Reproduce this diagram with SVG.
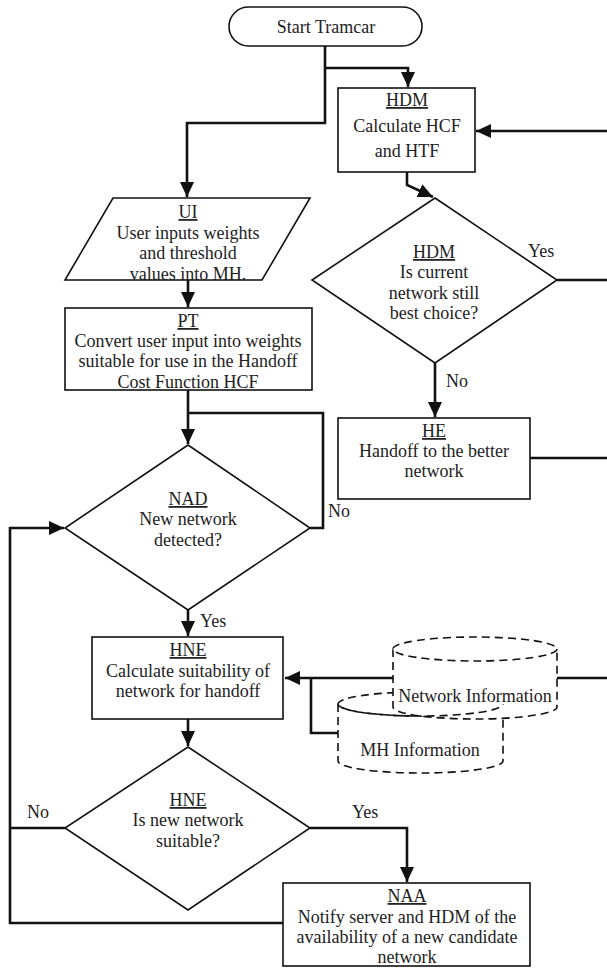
<svg xmlns="http://www.w3.org/2000/svg" width="607" height="968" viewBox="0 0 607 968" font-family="Liberation Serif, Times New Roman, serif">
<style>
text{font-size:18px;fill:#222;text-anchor:middle}
.t{text-decoration:underline}
.lbl{text-anchor:start}
.box{fill:#fff;stroke:#111;stroke-width:1.6}
.cyl{fill:#fff;stroke:#111;stroke-width:1.6;stroke-dasharray:8 5}
.cyln{fill:none;stroke:#111;stroke-width:1.6;stroke-dasharray:8 5}
.c{fill:none;stroke:#111;stroke-width:2.6}
.a{marker-end:url(#ah)}
</style>
<defs>
<marker id="ah" markerUnits="userSpaceOnUse" markerWidth="16" markerHeight="16" refX="15" refY="7" orient="auto">
<path d="M0,0 L15,7 L0,14 z" fill="#111"/>
</marker>
</defs>
<rect width="607" height="968" fill="#fff"/>
<g id="connectors">
<path class="c a" d="M325,46 V123 H187 V197"/>
<path class="c a" d="M325,68 H408 V87"/>
<path class="c a" d="M607,131 H476"/>
<path class="c a" d="M407,172 V185 L433,197"/>
<path class="c" d="M557,280 H607"/>
<path class="c a" d="M435,363 V417"/>
<path class="c" d="M530,458 H607"/>
<path class="c a" d="M188,280 V307"/>
<path class="c a" d="M188,390 V444"/>
<path class="c" d="M310,528 H323 V413 H188"/>
<path class="c a" d="M188,610 V636"/>
<path class="c a" d="M284,923 H10 V528 H64"/>
<path class="c" d="M65,828 H10"/>
<path class="c a" d="M188,719 V746"/>
<path class="c a" d="M310,828 H407 V882"/>
<path class="c a" d="M393,678 H285"/>
<path class="c" d="M338,733 H311 V678"/>
<path class="c" d="M557,678 H607"/>
</g>
<g id="start">
<rect class="box" x="229" y="7" width="193" height="39" rx="19.5"/>
<text x="326" y="33">Start Tramcar</text>
</g>
<g id="hdm-calc">
<rect class="box" x="338" y="88" width="137" height="84"/>
<text class="t" x="407" y="106">HDM</text>
<text x="407" y="132">Calculate HCF</text>
<text x="407" y="157">and HTF</text>
</g>
<g id="hdm-decision">
<path class="box" d="M435,198 L557,280 L435,363 L312,280 Z"/>
<text class="t" x="434" y="258">HDM</text>
<text x="434" y="278">Is current</text>
<text x="434" y="299">network still</text>
<text x="434" y="319">best choice?</text>
<text class="lbl" x="528" y="257">Yes</text>
<text class="lbl" x="446" y="387">No</text>
</g>
<g id="he">
<rect class="box" x="338" y="418" width="192" height="81"/>
<text class="t" x="434" y="437">HE</text>
<text x="434" y="457">Handoff to the better</text>
<text x="434" y="477">network</text>
</g>
<g id="ui">
<path class="box" d="M113,198 L310,198 L262,280 L65,280 Z"/>
<text class="t" x="188" y="218">UI</text>
<text x="188" y="239">User inputs weights</text>
<text x="188" y="259">and threshold</text>
<text x="188" y="280">values into MH.</text>
</g>
<g id="pt">
<rect class="box" x="65" y="308" width="247" height="82"/>
<text class="t" x="188" y="327">PT</text>
<text x="188" y="347">Convert user input into weights</text>
<text x="188" y="367">suitable for use in the Handoff</text>
<text x="188" y="388">Cost Function HCF</text>
</g>
<g id="nad">
<path class="box" d="M188,445 L310,528 L188,610 L65,528 Z"/>
<text class="t" x="188" y="505">NAD</text>
<text x="188" y="525">New network</text>
<text x="188" y="546">detected?</text>
<text class="lbl" x="328" y="517">No</text>
<text class="lbl" x="200" y="627">Yes</text>
</g>
<g id="hne-calc">
<rect class="box" x="92" y="637" width="191" height="82"/>
<text class="t" x="188" y="656">HNE</text>
<text x="188" y="677">Calculate suitability of</text>
<text x="188" y="697">network for handoff</text>
</g>
<g id="mh-info">
<path class="cyl" d="M338,704 V761 A82.5,12 0 0 0 503,761 V704"/>
<ellipse class="cyl" cx="420.5" cy="704" rx="82.5" ry="12"/>
</g>
<g id="network-info">
<path class="cyl" d="M393,649 V707 A82,12 0 0 0 557,707 V649"/>
<ellipse class="cyl" cx="475" cy="649" rx="82" ry="12"/>
<path class="cyln" d="M338,704 A82.5,12 0 0 0 503,704"/>
<text x="475" y="702">Network Information</text>
<text x="420" y="756">MH Information</text>
</g>
<g id="hne-decision">
<path class="box" d="M188,747 L310,828 L188,910 L65,828 Z"/>
<text class="t" x="188" y="806">HNE</text>
<text x="188" y="826">Is new network</text>
<text x="188" y="847">suitable?</text>
<text class="lbl" x="27" y="818">No</text>
<text class="lbl" x="352" y="818">Yes</text>
</g>
<g id="naa">
<rect class="box" x="283" y="883" width="247" height="83"/>
<text class="t" x="407" y="902">NAA</text>
<text x="407" y="923">Notify server and HDM of the</text>
<text x="407" y="943">availability of a new candidate</text>
<text x="407" y="963">network</text>
</g>
</svg>
